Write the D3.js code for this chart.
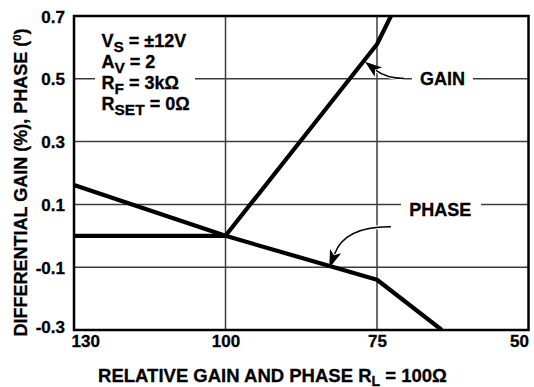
<!DOCTYPE html>
<html>
<head>
<meta charset="utf-8">
<script src="https://cdn.jsdelivr.net/npm/d3@7"></script>
<style>
  html, body { margin: 0; padding: 0; background: #fff; }
  svg { display: block; }
  text { font-family: "Liberation Sans", Arial, Helvetica, sans-serif; font-weight: bold; fill: #000; stroke: #000; stroke-width: 0.3px; }
</style>
</head>
<body>
<svg id="chart" width="534" height="387"></svg>
<script>
// ---- data ----
const xTicks = [130, 100, 75, 50];
const xTickLabels = ["130", "100", "75", "50"];
const yTicks = [-0.3, -0.1, 0.1, 0.3, 0.5, 0.7];
const yTickLabels = ["-0.3", "-0.1", "0.1", "0.3", "0.5", "0.7"];
const xGrid = [100, 75];
const yGrid = [-0.1, 0.1, 0.3, 0.5];
const gainRL = [130, 100, 75, 72.7];
const gainValues = [0, 0, 0.61, 0.7];
const phaseRL = [130, 100, 75, 64.3];
const phaseValues = [0.162, 0, -0.14, -0.3];

// ---- layout ----
const svg = d3.select("#chart");
const pL = 74, pR = 528.5, pT = 16, pB = 330;
const pW = pR - pL;

const x = d3.scaleLinear()
  .domain(xTicks)
  .range(xTicks.map((d, i) => pL + i * pW / (xTicks.length - 1)));
const y = d3.scaleLinear().domain([-0.3, 0.7]).range([pB, pT]);

svg.append("defs").append("clipPath").attr("id", "plotclip")
  .append("rect").attr("x", pL).attr("y", pT).attr("width", pW).attr("height", pB - pT);

// gridlines
const grid = svg.append("g").attr("stroke", "#3c3c3c").attr("stroke-width", 1.5);
grid.selectAll("line.v").data(xGrid).join("line").attr("class", "v")
  .attr("x1", d => x(d)).attr("x2", d => x(d)).attr("y1", pT).attr("y2", pB);
grid.selectAll("line.h").data(yGrid).join("line").attr("class", "h")
  .attr("x1", pL).attr("x2", pR).attr("y1", d => y(d)).attr("y2", d => y(d));

// white backings for in-plot labels
svg.append("rect").attr("x", 95).attr("y", 25).attr("width", 100).attr("height", 92).attr("fill", "#fff");
svg.append("rect").attr("x", 412).attr("y", 70).attr("width", 61).attr("height", 18).attr("fill", "#fff");
svg.append("rect").attr("x", 401).attr("y", 196).attr("width", 80).attr("height", 18).attr("fill", "#fff");

// data lines
const line = d3.line().x(d => x(d[0])).y(d => y(d[1]));
const plot = svg.append("g").attr("clip-path", "url(#plotclip)");
plot.append("path").datum(gainRL.map((d, i) => [d, gainValues[i]]))
  .attr("d", line).attr("fill", "none").attr("stroke", "#000").attr("stroke-width", 4.2)
  .attr("stroke-linejoin", "round");
plot.append("path").datum(phaseRL.map((d, i) => [d, phaseValues[i]]))
  .attr("d", line).attr("fill", "none").attr("stroke", "#000").attr("stroke-width", 4.2)
  .attr("stroke-linejoin", "round");

// frame
svg.append("rect").attr("x", pL).attr("y", pT).attr("width", pW).attr("height", pB - pT)
  .attr("fill", "none").attr("stroke", "#000").attr("stroke-width", 2.5);

// arrows
function arrow(tail, ctrl, tip, len, half) {
  const dx = tip[0] - ctrl[0], dy = tip[1] - ctrl[1];
  const L = Math.hypot(dx, dy), ux = dx / L, uy = dy / L;
  const base = [tip[0] - ux * len, tip[1] - uy * len];
  const px = -uy, py = ux;
  const g = svg.append("g");
  const d = `M${tail[0]},${tail[1]} Q${ctrl[0]},${ctrl[1]} ${base[0] + ux * 3},${base[1] + uy * 3}`;
  g.append("path").attr("d", d).attr("fill", "none").attr("stroke", "#fff").attr("stroke-width", 4);
  g.append("path").attr("d", d).attr("fill", "none").attr("stroke", "#000").attr("stroke-width", 1.5);
  const notch = [tip[0] - ux * len * 0.75, tip[1] - uy * len * 0.75];
  g.append("path")
    .attr("d", `M${tip[0]},${tip[1]} L${base[0] + px * half},${base[1] + py * half} L${notch[0]},${notch[1]} L${base[0] - px * half},${base[1] - py * half} Z`)
    .attr("fill", "#000");
}
arrow([404, 78.5], [386, 78], [365, 61.7], 17, 6);
arrow([391, 226.7], [345, 226], [329.3, 268], 18, 6);

// axes
const yAxis = svg.append("g").attr("transform", `translate(${pL},0)`)
  .call(d3.axisLeft(y).tickValues(yTicks).tickSize(0).tickPadding(9)
    .tickFormat((d, i) => yTickLabels[i]));
yAxis.select(".domain").remove();
yAxis.selectAll("text").attr("font-size", 17).attr("font-family", null).attr("fill", "#000")
  .attr("dy", (d, i) => i === 0 ? "0.12em" : "0.36em");

const xAxis = svg.append("g").attr("transform", `translate(0,${pB})`)
  .call(d3.axisBottom(x).tickValues(xTicks).tickSize(0).tickPadding(5)
    .tickFormat((d, i) => xTickLabels[i]));
xAxis.select(".domain").remove();
xAxis.selectAll("text").attr("font-size", 17).attr("font-family", null).attr("fill", "#000")
  .attr("text-anchor", (d, i) => i === 0 ? "start" : (i === xTicks.length - 1 ? "end" : "middle"))
  .attr("dx", (d, i) => i === 0 ? -3 : 0);

// axis titles
const xt = svg.append("text").attr("x", 272.5).attr("y", 381.5).attr("text-anchor", "middle").attr("font-size", 18.5);
xt.append("tspan").text("RELATIVE GAIN AND PHASE R");
xt.append("tspan").attr("dy", 4).attr("font-size", 14).text("L");
xt.append("tspan").attr("dy", -4).text(" = 100Ω");

const yt = svg.append("text").attr("transform", "translate(26.7,182.5) rotate(-90)")
  .attr("text-anchor", "middle").attr("font-size", 18);
yt.append("tspan").text("DIFFERENTIAL GAIN (%), PHASE (");
yt.append("tspan").attr("dy", -6).attr("font-size", 11).text("0");
yt.append("tspan").attr("dy", 6).text(")");

// condition block
const cond = [
  ["V", "S", " = ±12V"],
  ["A", "V", " = 2"],
  ["R", "F", " = 3kΩ"],
  ["R", "SET", " = 0Ω"]
];
const baselines = [46.7, 68.3, 89.3, 110];
cond.forEach((c, i) => {
  const t = svg.append("text").attr("x", 101.5).attr("y", baselines[i]).attr("font-size", 18);
  t.append("tspan").text(c[0]);
  t.append("tspan").attr("dy", 5).attr("font-size", 15.5).text(c[1]);
  t.append("tspan").attr("dy", -5).text(c[2]);
});

// series labels
svg.append("text").attr("x", 420).attr("y", 84.5).attr("font-size", 18).text("GAIN");
svg.append("text").attr("x", 409.3).attr("y", 216).attr("font-size", 18).text("PHASE");
</script>
</body>
</html>
